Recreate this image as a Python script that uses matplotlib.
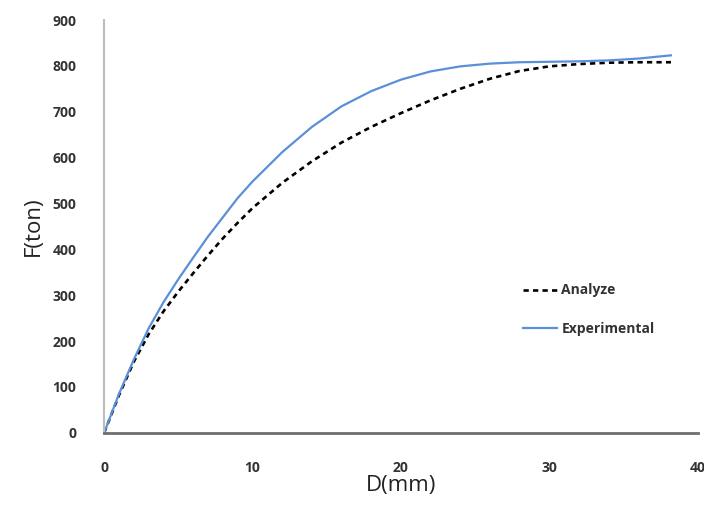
import matplotlib
matplotlib.use("Agg")
from matplotlib import pyplot as plt

# displacement (mm) and force (ton)
d_mm = [0, 1, 2, 3, 4, 5, 6, 7, 8, 9, 10, 12, 14, 16, 18, 20, 22, 24,
        26, 28, 30, 32, 34, 36, 38.2]
f_analyze = [0, 82, 155, 215, 265, 308, 348, 387, 424, 458, 490, 545, 592,
             633, 667, 697, 725, 750, 772, 789, 799, 804, 807, 808, 808]
f_experimental = [0, 85, 160, 228, 285, 335, 382, 428, 470, 512, 548, 612,
                  667, 712, 745, 770, 788, 799, 805, 808, 809, 810, 812,
                  816, 823]

x_ticks = [0, 10, 20, 30, 40]
y_ticks = [0, 100, 200, 300, 400, 500, 600, 700, 800, 900]

plt.rcParams['font.family'] = ['Open Sans', 'DejaVu Sans']

fig = plt.figure(figsize=(7.04, 5.14), dpi=100)
ax = fig.add_axes([0.148, 0.158, 0.843, 0.803])

ax.plot(d_mm, f_analyze, color='black', lw=1.9, linestyle=(0, (2, 1.6)),
        label='Analyze')
ax.plot(d_mm, f_experimental, color='#5b8fd8', lw=1.6, label='Experimental')

ax.set_xlim(0, 40)
ax.set_ylim(0, 900)
ax.set_xticks(x_ticks)
ax.set_yticks(y_ticks)
ax.tick_params(length=0, labelsize=10, labelcolor='#333333')
ax.tick_params(axis='x', pad=20)
ax.tick_params(axis='y', pad=20)
for lab in ax.get_xticklabels() + ax.get_yticklabels():
    lab.set_fontweight('bold')

for side in ['top', 'right']:
    ax.spines[side].set_visible(False)
ax.spines['left'].set_color('#bdbdbd')
ax.spines['left'].set_linewidth(1.5)
ax.spines['bottom'].set_color('#6e6e6e')
ax.spines['bottom'].set_linewidth(2)

ax.set_xlabel('D(mm)', fontsize=16, color='#222222', labelpad=0)
ax.set_ylabel('F(ton)', fontsize=16, color='#222222', labelpad=6)

leg = ax.legend(loc='upper left', bbox_to_anchor=(0.705, 0.362),
                frameon=False, borderpad=0, borderaxespad=0,
                handlelength=2.45, handletextpad=0.35, labelspacing=1.75,
                prop={'size': 10, 'weight': 'bold'})
for t in leg.get_texts():
    t.set_color('#333333')

fig.savefig('out.png', dpi=100)
